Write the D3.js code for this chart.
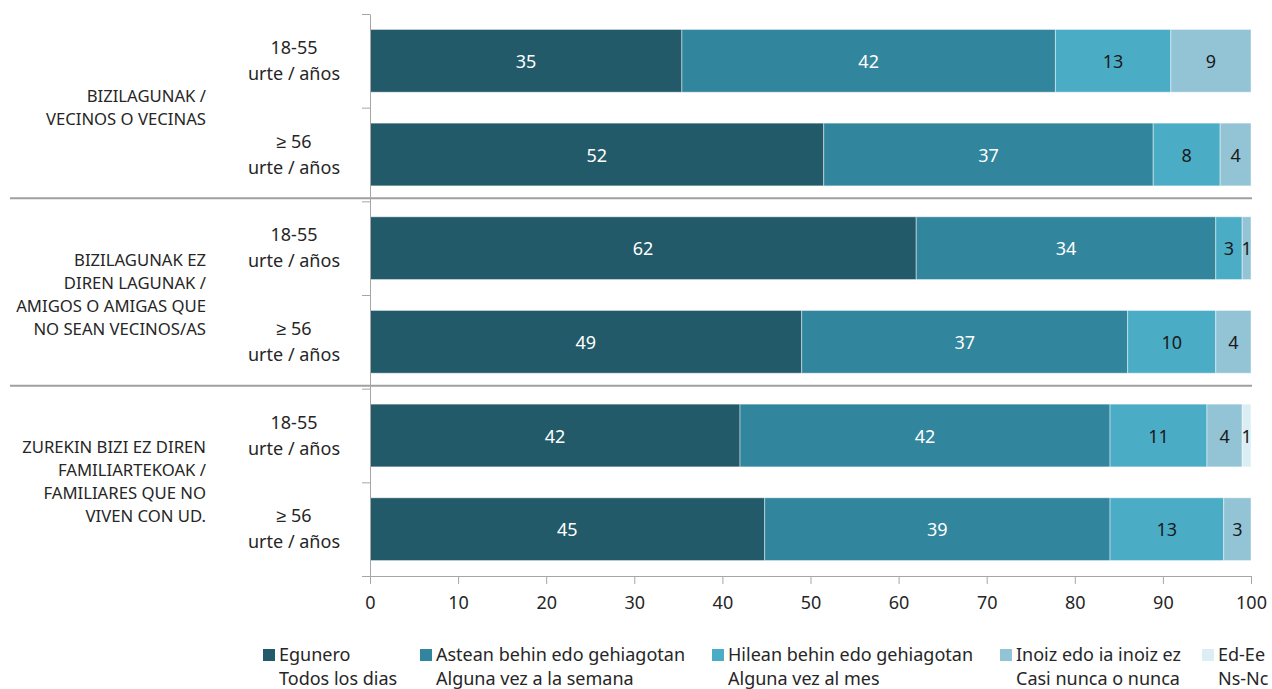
<!DOCTYPE html>
<html>
<head>
<meta charset="utf-8">
<script src="https://cdn.jsdelivr.net/npm/d3@7"></script>
<style>
  body { margin: 0; background: #fff; }
  svg text { font-family: "Noto Sans", sans-serif; fill: #262626; }
  .axis path, .axis line { stroke: #a6a6a6; }
</style>
</head>
<body>
<svg class="plot" width="1272" height="689"></svg>
<script>
  // categories
  var groupLabels = [
    ["BIZILAGUNAK /", "VECINOS O VECINAS"],
    ["BIZILAGUNAK EZ", "DIREN LAGUNAK /", "AMIGOS O AMIGAS QUE", "NO SEAN VECINOS/AS"],
    ["ZUREKIN BIZI EZ DIREN", "FAMILIARTEKOAK /", "FAMILIARES QUE NO", "VIVEN CON UD."]
  ]
  var ageLabels = [["18-55", "urte / años"], ["≥ 56", "urte / años"]]
  var rowIds = ["g1a", "g1b", "g2a", "g2b", "g3a", "g3b"]

  // series (percent per row)
  var seriesEu = ["Egunero", "Astean behin edo gehiagotan", "Hilean behin edo gehiagotan", "Inoiz edo ia inoiz ez", "Ed-Ee"]
  var seriesEs = ["Todos los dias", "Alguna vez a la semana", "Alguna vez al mes", "Casi nunca o nunca", "Ns-Nc"]
  var egunero = [35.4, 51.5, 62, 49, 42, 44.8]
  var astean = [42.4, 37.4, 34, 37, 42, 39.2]
  var hilean = [13.1, 7.6, 3, 10, 11, 12.9]
  var inoiz = [9.1, 3.5, 1, 4, 4, 3.1]
  var nsnc = [0, 0, 0, 0, 1, 0]
  var xTicks = [0, 10, 20, 30, 40, 50, 60, 70, 80, 90, 100]

  var colors = ["#225a69", "#31859c", "#4bacc6", "#93c4d6", "#dbeef4"]
  var labelColors = ["#ffffff", "#ffffff", "#1a1a1a", "#1a1a1a", "#1a1a1a"]

  var svg = d3.select("svg.plot")
  var margin = { top: 14, left: 370, right: 21, bottom: 113 }
  var width = 1272, height = 689

  var x = d3.scaleLinear().domain([0, 100]).range([margin.left, width - margin.right])
  var y = d3.scaleBand().domain(rowIds).range([margin.top, height - margin.bottom])
    .paddingInner(0.33).paddingOuter(0.165)
  var yEdge = d3.scaleLinear().domain([0, rowIds.length]).range([margin.top, height - margin.bottom])

  var table = rowIds.map((id, i) => ({ id: id, values: [egunero[i], astean[i], hilean[i], inoiz[i], nsnc[i]] }))
  var stack = d3.stack().keys(d3.range(5)).value((d, k) => d.values[k])(table)

  // separators between groups
  svg.selectAll("line.sep")
    .data([2, 4])
    .enter().append("line")
    .attr("class", "sep")
    .attr("x1", 10).attr("x2", x(100) + 1)
    .attr("y1", d => yEdge(d) - 3).attr("y2", d => yEdge(d) - 3)
    .attr("stroke", "#a0a0a0").attr("stroke-width", 2)

  // bars
  stack.forEach((layer, k) => {
    var g = svg.append("g")
    g.selectAll("rect")
      .data(layer.filter(d => d[1] - d[0] > 0))
      .enter().append("rect")
      .attr("x", d => x(d[0]))
      .attr("y", d => y(d.data.id))
      .attr("width", d => x(d[1]) - x(d[0]))
      .attr("height", y.bandwidth())
      .attr("fill", colors[k])
      .attr("stroke", "rgba(255,255,255,0.45)")
      .attr("stroke-width", 1)
    g.selectAll("text")
      .data(layer.filter(d => d[1] - d[0] > 0))
      .enter().append("text")
      .attr("x", d => (x(d[0]) + x(d[1])) / 2)
      .attr("y", d => y(d.data.id) + y.bandwidth() / 2)
      .attr("text-anchor", "middle")
      .attr("dominant-baseline", "central")
      .style("font-size", "18px")
      .style("fill", labelColors[k])
      .text(d => Math.round(d[1] - d[0]))
  })

  // y axis: line with ticks at band edges
  svg.append("g")
    .attr("class", "axis")
    .attr("transform", "translate(" + margin.left + ",0)")
    .call(d3.axisLeft(yEdge).tickValues(d3.range(rowIds.length + 1)).tickFormat("").tickSize(8).tickSizeOuter(0))

  // x axis
  var xAxis = svg.append("g")
    .attr("class", "axis")
    .attr("transform", "translate(0," + (height - margin.bottom) + ")")
    .call(d3.axisBottom(x).tickValues(xTicks).tickSize(8).tickSizeOuter(0).tickPadding(12))
  xAxis.selectAll("text").style("font-size", "18px").style("fill", "#262626")

  // age labels
  rowIds.forEach((id, i) => {
    var cy = y(id) + y.bandwidth() / 2
    var lines = ageLabels[i % 2]
    svg.append("text")
      .attr("x", 294).attr("y", cy - 14)
      .attr("text-anchor", "middle").attr("dominant-baseline", "central")
      .style("font-size", "18px").text(lines[0])
    svg.append("text")
      .attr("x", 294).attr("y", cy + 12)
      .attr("text-anchor", "middle").attr("dominant-baseline", "central")
      .style("font-size", "18px").text(lines[1])
  })

  // group labels
  groupLabels.forEach((lines, gi) => {
    var cy = yEdge(gi * 2 + 1) - 1
    lines.forEach((t, li) => {
      svg.append("text")
        .attr("x", 206)
        .attr("y", cy + (li - (lines.length - 1) / 2) * 23)
        .attr("text-anchor", "end").attr("dominant-baseline", "central")
        .style("font-size", "16.7px")
        .text(t)
    })
  })

  // legend
  var legendX = [263, 420, 712, 1000, 1202]
  var legend = svg.selectAll("g.legend")
    .data(seriesEu)
    .enter().append("g")
    .attr("class", "legend")
    .attr("transform", (d, i) => "translate(" + legendX[i] + ",649)")
  legend.append("rect")
    .attr("width", 12).attr("height", 12)
    .attr("fill", (d, i) => colors[i])
  legend.append("text")
    .attr("x", 16).attr("y", 12)
    .style("font-size", "18px")
    .text(d => d)
  legend.append("text")
    .attr("x", 16).attr("y", 36)
    .style("font-size", "18px")
    .text((d, i) => seriesEs[i])
</script>
</body>
</html>
